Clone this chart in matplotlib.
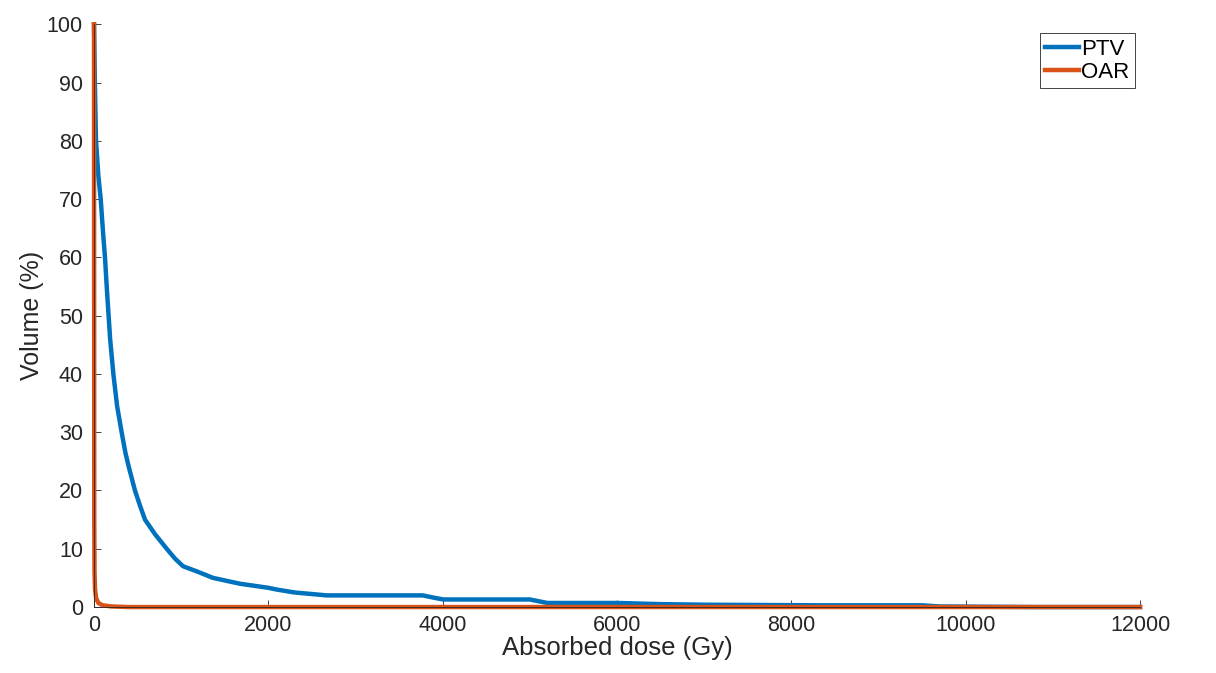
import numpy as np
import matplotlib
matplotlib.use('Agg')
import matplotlib.pyplot as plt

plt.rcParams['font.family'] = ['Liberation Sans', 'DejaVu Sans']

# PTV cumulative DVH (dose in Gy, volume in %)
ptv_dose = [0, 5, 10, 23, 50, 77, 105, 126, 150, 185, 222, 265, 317, 360, 400,
            470, 530, 585, 700, 834, 930, 1022,
            1200, 1366, 1675, 2000, 2097, 2300, 2670, 3000, 3773, 3900, 4005,
            5000, 5200, 6000, 6500, 7000, 8300, 9500, 9700, 10800, 12000]
ptv_vol = [100, 95, 90, 80, 74, 70, 64, 60, 54, 46, 40, 34.5, 30, 26.5, 24,
           20, 17.3, 15, 12.5, 10, 8.3, 7,
           6, 5, 4, 3.3, 3, 2.5, 2.0, 2.0, 2.0, 1.6, 1.3,
           1.3, 0.7, 0.7, 0.5, 0.4, 0.3, 0.3, 0.1, 0.0, 0.0]

# OAR cumulative DVH
oar_dose = [0, 3, 6, 12, 25, 50, 100, 200, 400, 12000]
oar_vol = [100, 15, 6, 3, 1.5, 0.7, 0.3, 0.1, 0.0, 0.0]

fig = plt.figure(figsize=(12.16, 6.73), dpi=100)
ax = fig.add_axes([0.0773, 0.098, 0.8602, 0.866])

ax.plot(ptv_dose, ptv_vol, color='#0072BD', lw=3.2, label='PTV', clip_on=False)
ax.plot(oar_dose, oar_vol, color='#D95319', lw=3.2, label='OAR', clip_on=False)

ax.set_xlim(0, 12000)
ax.set_ylim(0, 100)
ax.set_xticks(np.arange(0, 12001, 2000))
ax.set_yticks(np.arange(0, 101, 10))
ax.tick_params(direction='in', length=5, width=0.6, colors='#262626',
               labelsize=15.5)
ax.tick_params(axis='x', pad=6)
ax.tick_params(axis='y', pad=8)
for s in ['top', 'right']:
    ax.spines[s].set_visible(False)
for s in ['left', 'bottom']:
    ax.spines[s].set_color('#262626')
    ax.spines[s].set_linewidth(0.6)

ax.set_xlabel('Absorbed dose (Gy)', fontsize=18.5, color='#262626', labelpad=0)
ax.set_ylabel('Volume (%)', fontsize=18, color='#262626', labelpad=2)

leg = ax.legend(loc='upper right', fontsize=16, handlelength=1.5,
                handletextpad=0.1, borderpad=0.25, labelspacing=0.1,
                borderaxespad=0, fancybox=False, framealpha=1,
                bbox_to_anchor=(0.995, 0.985))
leg.get_frame().set_edgecolor('#262626')
leg.get_frame().set_linewidth(0.6)

fig.savefig('out.png', dpi=100)
